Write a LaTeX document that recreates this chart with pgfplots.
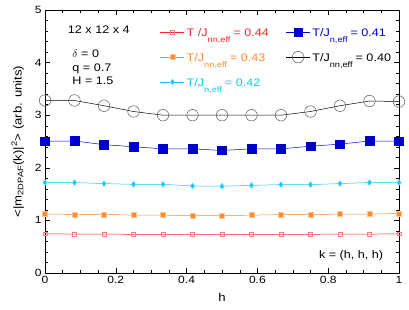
\documentclass[border=0pt]{standalone}
\usepackage{pgfplots}
\pgfplotsset{compat=1.18}
\usepackage{fontspec}
\setmainfont[FakeStretch=1.15]{Liberation Sans}
\definecolor{cRed}{RGB}{250,40,40}
\definecolor{cOrange}{RGB}{255,140,40}
\definecolor{cCyan}{RGB}{20,200,250}
\definecolor{cBlue}{RGB}{0,0,205}
\definecolor{cGray}{RGB}{90,90,90}
\newcommand{\sub}[1]{\raisebox{-6bp}{\fontsize{8}{9}\selectfont #1}\hspace{3bp}}
\begin{document}
\begin{tikzpicture}
\begin{axis}[
  scale only axis, width=354bp, height=263bp,
  xmin=0, xmax=1, ymin=0, ymax=5,
  xtick={0,0.2,0.4,0.6,0.8,1}, ytick={0,1,2,3,4,5},
  xticklabels={0,0.2,0.4,0.6,0.8,1},
  minor x tick num=3, minor y tick num=4,
  tick align=inside, major tick length=5bp, minor tick length=3bp,
  tick style={black, line width=0.4pt},
  tick label style={font=\fontsize{10.5}{12}\selectfont},
  /pgf/number format/assume math mode=true,
  xlabel={h}, xlabel style={font=\fontsize{11.5}{13}\selectfont, yshift=-2bp},
  ylabel={<|m\textsubscript{2DPAF}(k)|\textsuperscript{2}> (arb. units)},
  ylabel style={font=\fontsize{11.5}{13}\selectfont, yshift=4bp},
  axis line style={black, line width=0.5pt},
  legend columns=2,
  legend style={at={(0.325,0.964)}, anchor=north west, draw=none, fill=none,
    font=\fontsize{11}{12}\selectfont, inner sep=0pt,
    nodes={text height=14.5bp, text depth=6.5bp},
    /tikz/every even column/.append style={column sep=15bp}},
  legend cell align=left,
  legend image code/.code={\draw[mark repeat=2, mark phase=2] plot coordinates {(0bp,0bp) (12bp,0bp) (24bp,0bp)};},
]
% T = 0.44 (red)
\addplot[cRed, line width=0.5pt, mark=square, mark size=1.8pt, mark options={solid, cRed!60}] coordinates {
(0,0.745) (0.08333,0.74) (0.16667,0.74) (0.25,0.735) (0.33333,0.735) (0.41667,0.735) (0.5,0.735) (0.58333,0.735) (0.66667,0.735) (0.75,0.735) (0.83333,0.74) (0.91667,0.74) (1,0.745)};
\addlegendentry{\textcolor{cRed}{T /J\sub{nn,eff}= 0.44}}
% T = 0.41 (blue)
\addplot[cBlue, line width=0.5pt, mark=square*, mark size=4.3pt, mark options={solid, fill=cBlue}] coordinates {
(0,2.505) (0.08333,2.51) (0.16667,2.44) (0.25,2.40) (0.33333,2.36) (0.41667,2.36) (0.5,2.33) (0.58333,2.36) (0.66667,2.36) (0.75,2.41) (0.83333,2.45) (0.91667,2.51) (1,2.505)};
\addlegendentry{\textcolor{cBlue}{T/J\sub{n,eff}= 0.41}}
% T = 0.43 (orange)
\addplot[cOrange, line width=0.5pt, mark=square*, mark size=2.6pt, mark options={solid, draw=cOrange!50, fill=cOrange}] coordinates {
(0,1.12) (0.08333,1.115) (0.16667,1.115) (0.25,1.10) (0.33333,1.10) (0.41667,1.09) (0.5,1.09) (0.58333,1.10) (0.66667,1.11) (0.75,1.11) (0.83333,1.12) (0.91667,1.12) (1,1.13)};
\addlegendentry{\textcolor{cOrange}{T/J\sub{nn,eff}= 0.43}}
% T = 0.40 (black)
\addplot[black, line width=0.5pt, mark=o, mark size=5.8pt, mark options={solid, draw=cGray, line width=0.5pt}] coordinates {
(0,3.28) (0.08333,3.28) (0.16667,3.18) (0.25,3.07) (0.33333,3.00) (0.41667,3.00) (0.5,3.00) (0.58333,3.00) (0.66667,3.00) (0.75,3.07) (0.83333,3.18) (0.91667,3.27) (1,3.26)};
\addlegendentry{\textcolor{black}{T/J\sub{nn,eff}= 0.40}}
% T = 0.42 (cyan)
\addplot[cCyan, line width=0.5pt, mark=diamond*, mark size=3pt, mark options={solid, draw=cCyan!60, fill=cCyan}] coordinates {
(0,1.72) (0.08333,1.72) (0.16667,1.70) (0.25,1.685) (0.33333,1.685) (0.41667,1.655) (0.5,1.65) (0.58333,1.665) (0.66667,1.68) (0.75,1.68) (0.83333,1.70) (0.91667,1.72) (1,1.72)};
\addlegendentry{\textcolor{cCyan}{T/J\sub{n,eff}= 0.42}}
\node[anchor=west, font=\fontsize{11}{12}\selectfont] at (axis cs:0.055,4.63) {12 x 12 x 4};
\node[anchor=north west, align=left, font=\fontsize{11}{13.5}\selectfont, inner sep=0pt] at (axis cs:0.077,4.24) {$\delta$ = 0\\ q = 0.7\\ H = 1.5};
\node[anchor=east, font=\fontsize{11}{12}\selectfont] at (axis cs:0.965,0.33) {k = (h, h, h)};
\end{axis}
\pgfresetboundingbox
\path[use as bounding box] ([shift={(-45bp,-37bp)}]current axis.south west) rectangle ([shift={(10bp,10bp)}]current axis.north east);
\end{tikzpicture}
\end{document}
